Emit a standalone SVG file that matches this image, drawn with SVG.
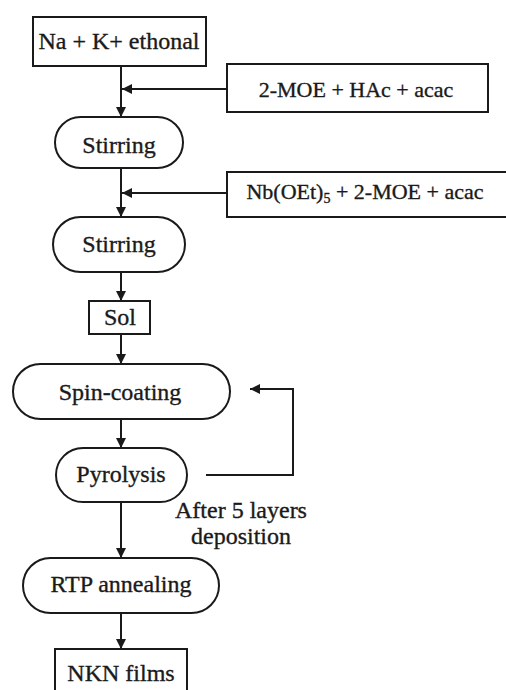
<svg xmlns="http://www.w3.org/2000/svg" width="506" height="690" viewBox="0 0 506 690">
  <style>
    .box { fill: #ffffff; stroke: #1a1a1a; stroke-width: 2; }
    .link { fill: none; stroke: #1a1a1a; stroke-width: 2; }
    text { fill: #1a1a1a; stroke: #1a1a1a; stroke-width: 0.35; font-size: 24px; text-anchor: middle; }
    .side { font-size: 22px; }
  </style>
  <defs>
    <marker id="arrow" viewBox="0 0 10 10" refX="10" refY="5" markerWidth="10" markerHeight="10" markerUnits="userSpaceOnUse" orient="auto">
      <path d="M0,0 L10,5 L0,10 Z" fill="#1a1a1a"/>
    </marker>
  </defs>
  <rect width="506" height="690" fill="#ffffff"/>

  <g font-family="Liberation Serif, Tinos, DejaVu Serif, serif">
  <!-- connectors -->
  <g id="connectors">
    <line class="link" x1="121" y1="66" x2="121" y2="117" marker-end="url(#arrow)"/>
    <line class="link" x1="227" y1="89" x2="122" y2="89" marker-end="url(#arrow)"/>
    <line class="link" x1="121" y1="168" x2="121" y2="217" marker-end="url(#arrow)"/>
    <line class="link" x1="227" y1="193" x2="122" y2="193" marker-end="url(#arrow)"/>
    <line class="link" x1="121" y1="272" x2="121" y2="301" marker-end="url(#arrow)"/>
    <line class="link" x1="121" y1="334" x2="121" y2="364" marker-end="url(#arrow)"/>
    <line class="link" x1="121" y1="419" x2="121" y2="448" marker-end="url(#arrow)"/>
    <polyline class="link" points="206,475 293,475 293,389 250,389" marker-end="url(#arrow)"/>
    <line class="link" x1="121" y1="502" x2="121" y2="558" marker-end="url(#arrow)"/>
    <line class="link" x1="121" y1="613" x2="121" y2="649" marker-end="url(#arrow)"/>
    <text x="241" y="518">After 5 layers</text>
    <text x="241" y="544">deposition</text>
  </g>

  <g id="start">
    <rect class="box" x="33" y="17" width="173" height="49"/>
    <text x="119" y="49">Na + K+ ethonal</text>
  </g>
  <g id="additive1">
    <rect class="box" x="227" y="64" width="261" height="48"/>
    <text class="side" x="356" y="97">2-MOE + HAc + acac</text>
  </g>
  <g id="stirring1">
    <rect class="box" x="55" y="117" width="128" height="51" rx="25.5"/>
    <text x="119" y="153">Stirring</text>
  </g>
  <g id="additive2">
    <rect class="box" x="227" y="172" width="284" height="45"/>
    <text class="side" x="365" y="199">Nb(OEt)<tspan font-size="14" dy="4">5</tspan><tspan dy="-4"> + 2-MOE + acac</tspan></text>
  </g>
  <g id="stirring2">
    <rect class="box" x="53" y="217" width="132" height="55" rx="27.5"/>
    <text x="119" y="252">Stirring</text>
  </g>
  <g id="sol">
    <rect class="box" x="89" y="301" width="61" height="33"/>
    <text x="120" y="325">Sol</text>
  </g>
  <g id="spin-coating">
    <rect class="box" x="13" y="364" width="217" height="55" rx="27.5"/>
    <text x="120" y="400">Spin-coating</text>
  </g>
  <g id="pyrolysis">
    <rect class="box" x="56" y="448" width="131" height="54" rx="27"/>
    <text x="121" y="482">Pyrolysis</text>
  </g>
  <g id="rtp-annealing">
    <rect class="box" x="23" y="558" width="196" height="55" rx="27.5"/>
    <text x="121" y="592">RTP annealing</text>
  </g>
  <g id="nkn-films">
    <rect class="box" x="55" y="649" width="132" height="50"/>
    <text x="121" y="681">NKN films</text>
  </g>
  </g>
</svg>
